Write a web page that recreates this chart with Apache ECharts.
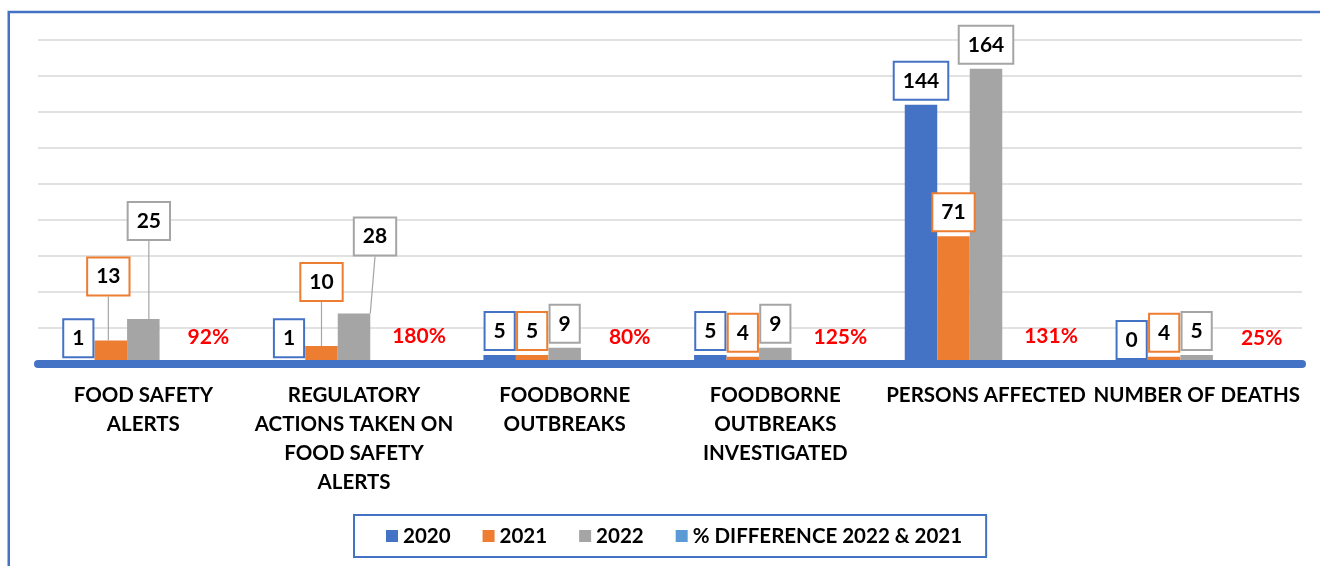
<!DOCTYPE html>
<html>
<head>
<meta charset="utf-8">
<script src="https://cdn.jsdelivr.net/npm/echarts@6/dist/echarts.min.js"></script>
<style>
  html, body { margin: 0; padding: 0; background: #fff; }
  #chart { width: 1320px; height: 566px; }
</style>
</head>
<body>
<div id="chart"></div>
<script>
// Food safety indicators, 2020–2022
const categories = [
  'FOOD SAFETY\nALERTS',
  'REGULATORY\nACTIONS TAKEN ON\nFOOD SAFETY\nALERTS',
  'FOODBORNE\nOUTBREAKS',
  'FOODBORNE\nOUTBREAKS\nINVESTIGATED',
  'PERSONS AFFECTED',
  'NUMBER OF DEATHS'
];
const values2020 = [1, 1, 5, 5, 144, 0];
const values2021 = [13, 10, 5, 4, 71, 4];
const values2022 = [25, 28, 9, 9, 164, 5];
// % difference between 2022 and 2021, as fractions
const pctDiff = [0.92, 1.80, 0.80, 1.25, 1.31, 0.25];
const seriesNames = ['2020', '2021', '2022', '% DIFFERENCE 2022 & 2021'];

const COLORS = {
  y2020: '#4472C4',
  y2021: '#ED7D31',
  y2022: '#A5A5A5',
  pct: '#5B9BD5'
};
const FONT = 'Lato';

// Callout labels that are lifted away from their bars (dx, dy in px), by category index
const calloutShift = {
  1: { 0: [-2.5, -40], 1: [0, -40] },
  2: { 0: [5.5, -74], 1: [21, -53] }
};

function boxLabel(color) {
  return {
    show: true,
    position: 'top',
    distance: 6,
    fontFamily: FONT,
    fontWeight: 'bold',
    fontSize: 21,
    lineHeight: 24,
    color: '#000',
    backgroundColor: '#fff',
    borderColor: color,
    borderWidth: 2,
    padding: [6, 8]
  };
}

function barSeries(name, values, color, seriesIdx) {
  const shifts = calloutShift[seriesIdx] || {};
  return {
    name: name,
    type: 'bar',
    barWidth: 32.5,
    barGap: '0%',
    itemStyle: { color: color },
    label: boxLabel(color),
    labelLine: { show: true, lineStyle: { color: '#A6A6A6', width: 1.2 } },
    labelLayout: function (p) {
      const s = shifts[p.dataIndex];
      return s ? { dx: s[0], dy: s[1] } : {};
    },
    data: values.map(function (v, i) {
      return { value: v, labelLine: { show: !!shifts[i] } };
    })
  };
}

const chart = echarts.init(document.getElementById('chart'), null, { renderer: 'canvas' });

chart.setOption({
  animation: false,
  backgroundColor: '#fff',
  graphic: [{
    type: 'rect',
    shape: { x: 8.75, y: 12, width: 2000, height: 2000 },
    style: { fill: 'none', stroke: '#4472C4', lineWidth: 2.5 },
    silent: true,
    z: -1
  }],
  grid: { left: 38, right: 18, top: 40, bottom: 202, containLabel: false },
  legend: {
    data: seriesNames,
    left: 354,
    top: 515,
    padding: [10, 24, 10, 32],
    itemGap: 32,
    itemWidth: 12,
    itemHeight: 12,
    icon: 'rect',
    borderColor: '#4472C4',
    borderWidth: 2,
    backgroundColor: '#fff',
    textStyle: {
      fontFamily: FONT,
      fontWeight: 'bold',
      fontSize: 20.5,
      lineHeight: 22,
      color: '#000'
    }
  },
  xAxis: {
    type: 'category',
    data: categories,
    z: 3,
    axisTick: { show: false },
    axisLine: { lineStyle: { color: '#4472C4', width: 8 } },
    axisLabel: {
      interval: 0,
      margin: 17,
      fontFamily: FONT,
      fontWeight: 'bold',
      fontSize: 20.5,
      lineHeight: 29,
      color: '#000'
    }
  },
  yAxis: {
    type: 'value',
    min: 0,
    max: 180,
    interval: 20,
    axisLabel: { show: false },
    axisLine: { show: false },
    axisTick: { show: false },
    splitLine: { lineStyle: { color: '#D9D9D9', width: 1.5 } }
  },
  series: [
    barSeries(seriesNames[0], values2020, COLORS.y2020, 0),
    barSeries(seriesNames[1], values2021, COLORS.y2021, 1),
    barSeries(seriesNames[2], values2022, COLORS.y2022, 2),
    // empty slot between the yearly bars and the % column
    { name: 'gap', type: 'bar', barWidth: 32.5, barGap: '0%', data: [] },
    {
      name: seriesNames[3],
      type: 'bar',
      barWidth: 32.5,
      barGap: '0%',
      itemStyle: { color: COLORS.pct },
      label: {
        show: true,
        position: 'top',
        distance: 13,
        fontFamily: FONT,
        fontWeight: 'bold',
        fontSize: 21,
        lineHeight: 24,
        color: '#FF0000',
        formatter: function (p) { return Math.round(p.value * 100) + '%'; }
      },
      data: pctDiff
    }
  ]
});
</script>
</body>
</html>
